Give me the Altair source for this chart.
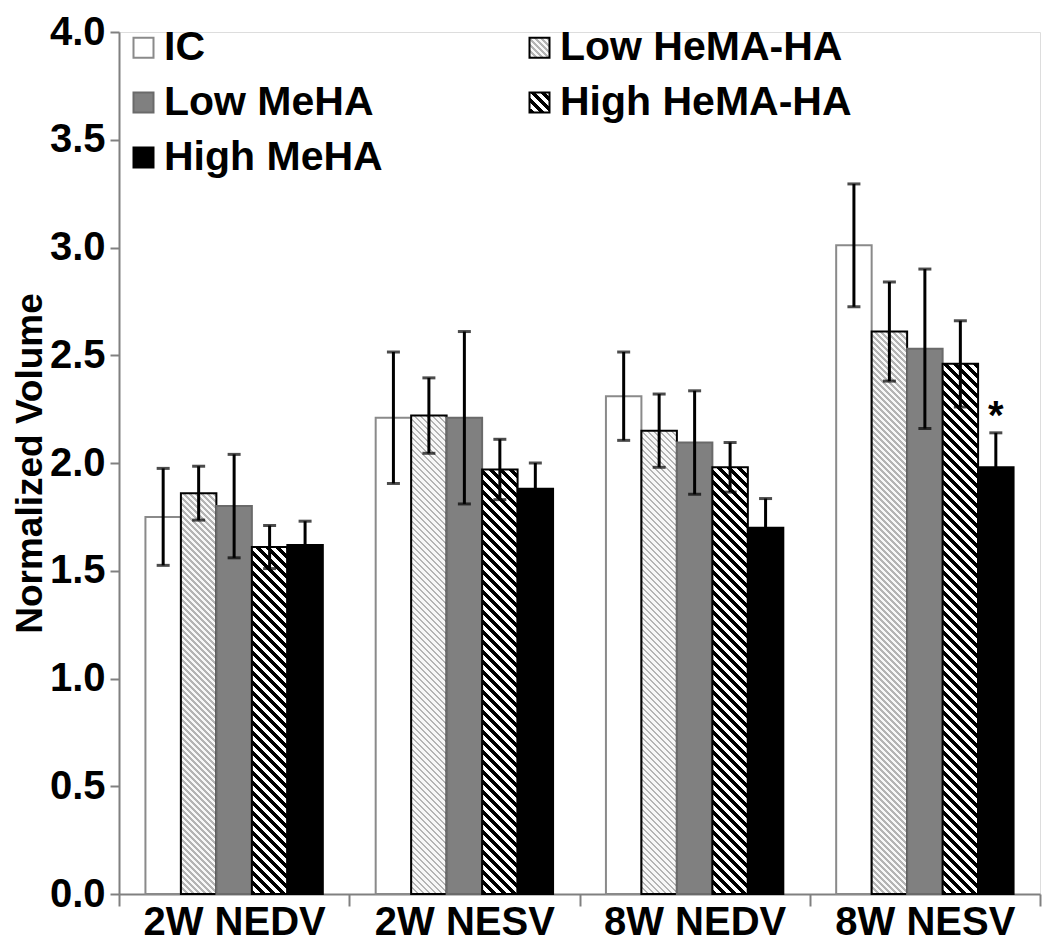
import json
import altair as alt
import pandas as pd

# ---------------- data ----------------
categories = ["2W NEDV", "2W NESV", "8W NEDV", "8W NESV"]
series = ["IC", "Low HeMA-HA", "Low MeHA", "High HeMA-HA", "High MeHA"]

mean_ic = [1.75, 2.21, 2.31, 3.01]
mean_low_hema = [1.86, 2.22, 2.15, 2.61]
mean_low_meha = [1.80, 2.21, 2.095, 2.53]
mean_high_hema = [1.61, 1.97, 1.98, 2.46]
mean_high_meha = [1.62, 1.88, 1.70, 1.98]

err_ic = [0.225, 0.305, 0.205, 0.285]
err_low_hema = [0.125, 0.175, 0.17, 0.23]
err_low_meha = [0.24, 0.40, 0.24, 0.37]
err_high_hema = [0.10, 0.14, 0.115, 0.20]
err_high_meha = [0.11, 0.12, 0.135, 0.16]

sig_high_meha = ["", "", "", "*"]

means = [mean_ic, mean_low_hema, mean_low_meha, mean_high_hema, mean_high_meha]
errs = [err_ic, err_low_hema, err_low_meha, err_high_hema, err_high_meha]
sigs = [["", "", "", ""]] * 4 + [sig_high_meha]

rows = []
for s, m_list, e_list, g_list in zip(series, means, errs, sigs):
    for c, m, e, g in zip(categories, m_list, e_list, g_list):
        rows.append({"category": c, "series": s, "mean": m, "err": e, "sig": g})
df = pd.DataFrame(rows)

# ---------------- layout / style ----------------
FONT = "Liberation Sans"
PLOT_W, PLOT_H = 921, 862
Y_MAX = 4.0
OFFSET_PAD = 0.745
BAR_W = (PLOT_W / len(categories)) / (len(series) + 2 * OFFSET_PAD)

fill_plain = ["white", "#f2f2f2", "#808080", "#ffffff", "black"]
stroke_colors = ["#8a8a8a", "black", "#6a6a6a", "black", "black"]


def stripes(w, h, period, frac, line, bg):
    """Diagonal '\\' stripes as a linear gradient in bounding-box units."""
    total = w + h
    stops = []
    pos = 0.0
    while pos < total:
        a = pos / total
        b = min((pos + period * frac) / total, 1.0)
        c = min((pos + period) / total, 1.0)
        stops += [
            {"offset": round(a, 5), "color": line},
            {"offset": round(b, 5), "color": line},
            {"offset": round(b, 5), "color": bg},
            {"offset": round(c, 5), "color": bg},
        ]
        pos += period
    d = w * w + h * h
    return {
        "gradient": "linear",
        "x1": 0, "y1": 1,
        "x2": round(w * (w + h) / d, 6),
        "y2": round(w * (w - h) / d, 6),
        "stops": stops,
    }


hatch_style = {
    "Low HeMA-HA": dict(period=6, frac=0.4, line="#b4b4b4", bg="#f8f8f8"),
    "High HeMA-HA": dict(period=10, frac=0.5, line="black", bg="white"),
}

conditions = []
for s, m_list in zip(series, means):
    if s not in hatch_style:
        continue
    for c, m in zip(categories, m_list):
        conditions.append({
            "test": f"datum.series === '{s}' && datum.category === '{c}'",
            "value": stripes(BAR_W, m * PLOT_H / Y_MAX, **hatch_style[s]),
        })

fill_range = []
for s, col in zip(series, fill_plain):
    if s in hatch_style:
        fill_range.append({"expr": json.dumps(stripes(20, 20, **hatch_style[s]))})
    else:
        fill_range.append(col)

legend = alt.Legend(
    title=None, orient="none", legendX=4, legendY=-5, columns=2,
    direction="horizontal",
    columnPadding=136, rowPadding=13, padding=0,
    symbolType="square", symbolSize=400, symbolStrokeWidth=2,
    labelFont=FONT, labelFontSize=41, labelFontWeight="bold",
    labelColor="black", labelOffset=0, labelLimit=500,
)

x_axis = alt.Axis(
    title=None, labelAngle=0, tickBand="extent",
    domainColor="#808080", domainWidth=2, tickColor="#808080",
    tickWidth=2, tickSize=12, labelFont=FONT, labelFontSize=40,
    labelFontWeight="bold", labelColor="black", labelPadding=-4, labelLimit=500,
)
y_axis = alt.Axis(
    values=[0, 0.5, 1.0, 1.5, 2.0, 2.5, 3.0, 3.5, 4.0], format=".1f", grid=False,
    domainColor="#808080", domainWidth=2, tickColor="#808080", tickWidth=2,
    tickSize=9, labelFont=FONT, labelFontSize=40, labelFontWeight="bold",
    labelColor="black", labelPadding=5,
    titleFont=FONT, titleFontSize=37, titleFontWeight="bold",
    titleColor="black", titlePadding=0,
)

X = alt.X("category:N", sort=categories,
          scale=alt.Scale(domain=categories, paddingInner=0, paddingOuter=0),
          axis=x_axis)
XO = alt.XOffset("series:N", sort=series,
                 scale=alt.Scale(domain=series, paddingInner=0, paddingOuter=OFFSET_PAD))
y_scale = alt.Scale(domain=[0, Y_MAX], nice=False, zero=True)


def Y(field):
    return alt.Y(field, scale=y_scale, axis=y_axis, title="Normalized Volume")


base = alt.Chart(df)

bars = base.mark_bar(strokeWidth=2).encode(
    x=X, xOffset=XO, y=Y("mean:Q"),
    fill=alt.Fill("series:N", sort=series,
                  scale=alt.Scale(domain=series, range=fill_range),
                  legend=legend, condition=conditions),
    stroke=alt.Stroke("series:N", sort=series,
                      scale=alt.Scale(domain=series, range=stroke_colors),
                      legend=legend),
)

err = base.transform_calculate(lo="datum.mean - datum.err", hi="datum.mean + datum.err")

whisker = err.mark_rule(color="black", strokeWidth=3).encode(
    x=X, xOffset=XO, y=Y("lo:Q"), y2="hi:Q")
cap_hi = err.mark_tick(color="black", thickness=3, size=13).encode(
    x=X, xOffset=XO, y=Y("hi:Q"))
cap_lo = err.mark_tick(color="black", thickness=3, size=13).encode(
    x=X, xOffset=XO, y=Y("lo:Q"))

star = err.transform_filter("datum.sig !== ''").mark_text(
    font=FONT, fontSize=40, fontWeight="bold", color="black",
    baseline="alphabetic", align="center", dy=-4,
).encode(x=X, xOffset=XO, y=Y("hi:Q"), text="sig:N")

chart = alt.layer(bars, whisker, cap_hi, cap_lo, star).properties(
    width=PLOT_W, height=PLOT_H,
    autosize=alt.AutoSizeParams(type="none"),
    padding={"left": 111, "top": 24, "right": 2, "bottom": 52},
).configure_view(stroke=None).configure(font=FONT)

chart.save("out.html", embed_options={"renderer": "svg", "actions": False})
